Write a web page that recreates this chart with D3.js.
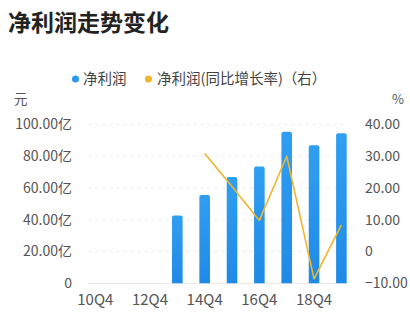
<!DOCTYPE html>
<html>
<head>
<meta charset="utf-8">
<script src="https://d3js.org/d3.v7.min.js"></script>
<style>
  body { margin: 0; background: #fff; font-family: 'Noto Sans CJK SC', 'Noto Sans', sans-serif; }
  svg { display: block; }
</style>
</head>
<body>
<div id="chart"></div>
<script>
// ---- data ----
const categories = ["10Q4","11Q4","12Q4","13Q4","14Q4","15Q4","16Q4","17Q4","18Q4","19Q4"];
const profit = [null, null, null, 42.7, 55.6, 67.0, 73.5, 95.4, 86.9, 94.5];   // 亿元
const growth = [null, null, null, null, 30.9, 20.5, 9.8, 30.0, -8.6, 8.4];    // %
const leftTicks = [0, 20, 40, 60, 80, 100];
const rightTicks = [-10, 0, 10, 20, 30, 40];
const xLabels = ["10Q4","12Q4","14Q4","16Q4","18Q4"];

const width = 410, height = 321;
const svg = d3.select("#chart").append("svg")
    .attr("width", width).attr("height", height);

const defs = svg.append("defs");
const grad = defs.append("linearGradient").attr("id", "barGrad")
    .attr("x1", 0).attr("y1", 0).attr("x2", 0).attr("y2", 1);
grad.append("stop").attr("offset", "0%").attr("stop-color", "#2f9ff2");
grad.append("stop").attr("offset", "100%").attr("stop-color", "#1f8ae6");

// title
svg.append("text")
    .attr("x", 8).attr("y", 31)
    .attr("font-size", 23).attr("font-weight", "bold").attr("fill", "#222")
    .text("净利润走势变化");

// legend
const legend = svg.append("g").attr("font-size", 14.5).attr("fill", "#444");
legend.append("circle").attr("cx", 75.5).attr("cy", 79).attr("r", 3.5).attr("fill", "#2a98ee");
legend.append("text").attr("x", 83).attr("y", 84).text("净利润");
legend.append("circle").attr("cx", 148.5).attr("cy", 79).attr("r", 3.5).attr("fill", "#f0b429");
legend.append("text").attr("x", 157).attr("y", 84).text("净利润(同比增长率)（右）");

// scales
const x = d3.scalePoint().domain(categories).range([95.3, 341.4]);
const yL = d3.scaleLinear().domain([0, 100]).range([283.3, 124.5]);
const yR = d3.scaleLinear().domain([-10, 40]).range([283.3, 124.5]);
const gridX0 = 88, gridX1 = 348;

// units
svg.append("text").attr("x", 14).attr("y", 104).attr("font-size", 13.5).attr("fill", "#555").text("元");
svg.append("text").attr("x", 404).attr("y", 104).attr("font-size", 13).attr("fill", "#555")
    .attr("text-anchor", "end").text("%");

// gridlines
svg.append("g").selectAll("line").data(leftTicks).join("line")
    .attr("x1", gridX0).attr("x2", gridX1)
    .attr("y1", d => yL(d)).attr("y2", d => yL(d))
    .attr("stroke", d => d === 0 ? "#e6e6e6" : "#ececec")
    .attr("stroke-dasharray", d => d === 0 ? null : "4,3");

// left axis labels
svg.append("g").attr("font-size", 14).attr("fill", "#555").attr("text-anchor", "end")
  .selectAll("text").data(leftTicks).join("text")
    .attr("x", 72).attr("y", d => yL(d)).attr("dy", "0.35em")
    .text(d => d === 0 ? "0" : d3.format(".2f")(d) + "亿");

// right axis labels
svg.append("g").attr("font-size", 14).attr("fill", "#555")
  .selectAll("text").data(rightTicks).join("text")
    .attr("x", 365).attr("y", d => yR(d)).attr("dy", "0.35em")
    .text(d => d === 0 ? "0" : d3.format(".2f")(d));

// x labels
svg.append("g").attr("font-size", 15).attr("fill", "#555").attr("text-anchor", "middle")
  .selectAll("text").data(xLabels).join("text")
    .attr("x", d => x(d)).attr("y", 304.5)
    .text(d => d);

// bars
const barW = 10.6, r = 2;
const barData = categories.map((c, i) => ({c, v: profit[i]})).filter(d => d.v != null);
svg.append("g").selectAll("path").data(barData).join("path")
    .attr("fill", "url(#barGrad)")
    .attr("d", d => {
      const x0 = x(d.c) - barW / 2, x1 = x(d.c) + barW / 2;
      const yt = yL(d.v), yb = yL(0);
      return `M${x0},${yb}V${yt + r}Q${x0},${yt} ${x0 + r},${yt}H${x1 - r}Q${x1},${yt} ${x1},${yt + r}V${yb}Z`;
    });

// growth line
const lineData = categories.map((c, i) => ({c, v: growth[i]})).filter(d => d.v != null);
svg.append("path").datum(lineData)
    .attr("fill", "none").attr("stroke", "#efb62c").attr("stroke-width", 1.6)
    .attr("stroke-linejoin", "round")
    .attr("d", d3.line().x(d => x(d.c)).y(d => yR(d.v)));
</script>
</body>
</html>
